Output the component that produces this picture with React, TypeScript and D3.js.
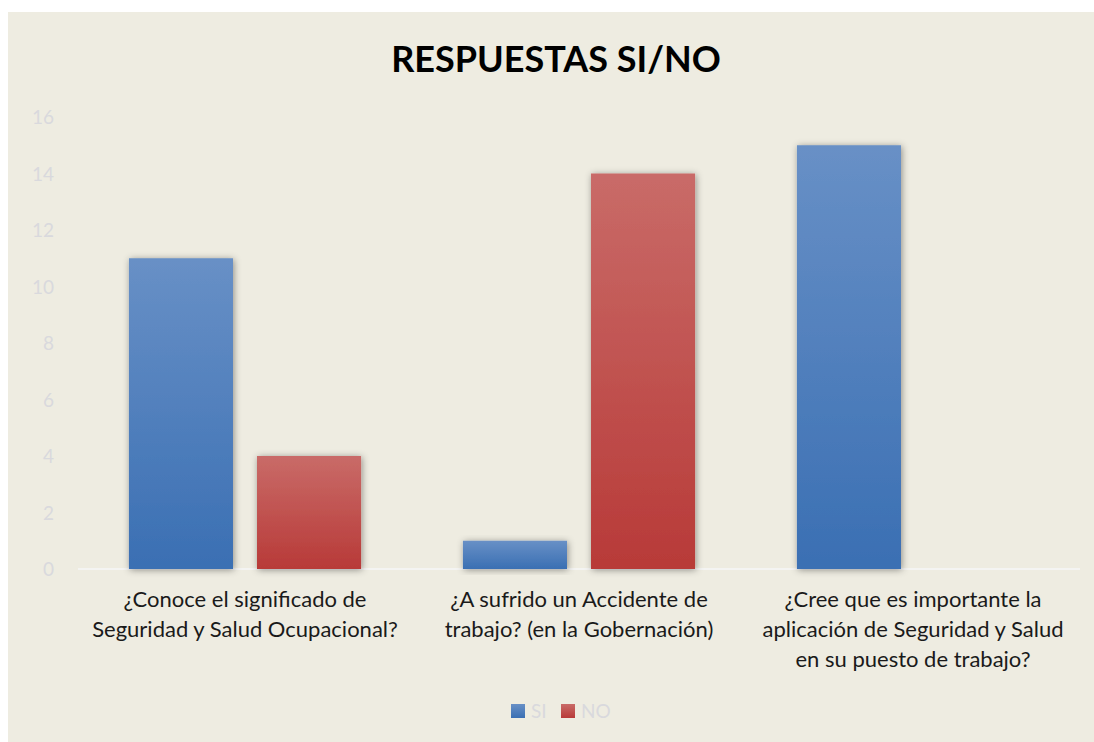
import * as d3 from "d3";
import { useEffect, useRef } from "react";

const categories = [
  "¿Conoce el significado de\nSeguridad y Salud Ocupacional?",
  "¿A sufrido un Accidente de\ntrabajo? (en la Gobernación)",
  "¿Cree que es importante la\naplicación de Seguridad y Salud\nen su puesto de trabajo?",
];
const seriesNames = ["SI", "NO"];
const siValues = [11, 1, 15];
const noValues = [4, 14, 0];
const yTicks = [0, 2, 4, 6, 8, 10, 12, 14, 16];

const colors: Record<string, [string, string]> = {
  SI: ["#6890c6", "#3a6fb3"],
  NO: ["#c96b68", "#b83a38"],
};

export default function App() {
  const svgRef = useRef<SVGSVGElement>(null);

  useEffect(() => {
    document.body.style.margin = "0";
    if (!svgRef.current) return;
    const svg = d3.select(svgRef.current);
    svg.selectAll("*").remove();

    const W = 1094;
    const H = 742;
    const plot = { left: 78, right: 1080, top: 117, bottom: 569 };
    const font = "Lato, 'Open Sans', sans-serif";

    const defs = svg.append("defs");
    seriesNames.forEach((s) => {
      const grad = defs
        .append("linearGradient")
        .attr("id", `grad-${s}`)
        .attr("x1", 0)
        .attr("y1", 0)
        .attr("x2", 0)
        .attr("y2", 1);
      grad.append("stop").attr("offset", "0%").attr("stop-color", colors[s][0]);
      grad.append("stop").attr("offset", "100%").attr("stop-color", colors[s][1]);
    });
    defs
      .append("filter")
      .attr("id", "shadow")
      .attr("x", "-20%")
      .attr("y", "-20%")
      .attr("width", "140%")
      .attr("height", "140%")
      .append("feDropShadow")
      .attr("dx", 1)
      .attr("dy", 1)
      .attr("stdDeviation", 3.5)
      .attr("flood-color", "#000")
      .attr("flood-opacity", 0.4);

    // background
    svg
      .append("rect")
      .attr("x", 8)
      .attr("y", 12)
      .attr("width", W - 8)
      .attr("height", H - 12)
      .attr("fill", "#eeece1");

    // title
    svg
      .append("text")
      .attr("x", 556)
      .attr("y", 72)
      .attr("text-anchor", "middle")
      .attr("font-family", font)
      .attr("font-weight", "bold")
      .attr("font-size", 36)
      .attr("fill", "#000")
      .text("RESPUESTAS SI/NO");

    const x0 = d3
      .scaleBand()
      .domain(categories)
      .range([plot.left, plot.right])
      .paddingInner(0.305)
      .paddingOuter(0.1525);

    const x1 = d3
      .scaleBand()
      .domain(seriesNames)
      .range([0, x0.bandwidth()])
      .paddingInner(0.1875)
      .paddingOuter(0);

    const y = d3.scaleLinear().domain([0, 16]).range([plot.bottom, plot.top]);

    // y tick labels
    svg
      .append("g")
      .selectAll("text")
      .data(yTicks)
      .enter()
      .append("text")
      .attr("x", 54)
      .attr("y", (d) => y(d) + 7)
      .attr("text-anchor", "end")
      .attr("font-family", font)
      .attr("font-size", 19)
      .attr("fill", "#d9d9dd")
      .text((d) => d);

    // baseline
    svg
      .append("line")
      .attr("x1", plot.left)
      .attr("x2", plot.right)
      .attr("y1", y(0))
      .attr("y2", y(0))
      .attr("stroke", "#f4f4f2")
      .attr("stroke-width", 2);

    const rows = categories.map((c, i) => ({ cat: c, SI: siValues[i], NO: noValues[i] }));

    const groups = svg
      .append("g")
      .selectAll("g")
      .data(rows)
      .enter()
      .append("g")
      .attr("transform", (d) => `translate(${x0(d.cat)},0)`);

    groups
      .selectAll("rect")
      .data((d) => seriesNames.map((s) => ({ s, v: (d as any)[s] as number })).filter((b) => b.v > 0))
      .enter()
      .append("rect")
      .attr("x", (d) => x1(d.s) || 0)
      .attr("width", x1.bandwidth())
      .attr("y", (d) => y(d.v))
      .attr("height", (d) => y(0) - y(d.v))
      .attr("fill", (d) => `url(#grad-${d.s})`)
      .attr("filter", "url(#shadow)");

    // category labels
    groups.each(function (d) {
      const lines = d.cat.split("\n");
      const t = d3
        .select(this)
        .append("text")
        .attr("text-anchor", "middle")
        .attr("font-family", font)
        .attr("font-size", 22)
        .attr("fill", "#1a1a1a");
      lines.forEach((ln, i) => {
        t.append("tspan")
          .attr("x", x0.bandwidth() / 2)
          .attr("y", 607 + i * 30)
          .text(ln);
      });
    });

    // legend
    const legend = svg.append("g");
    const legendX = [511, 561];
    seriesNames.forEach((s, i) => {
      legend
        .append("rect")
        .attr("x", legendX[i])
        .attr("y", 704)
        .attr("width", 14)
        .attr("height", 14)
        .attr("fill", `url(#grad-${s})`);
      legend
        .append("text")
        .attr("x", legendX[i] + 20)
        .attr("y", 718)
        .attr("font-family", font)
        .attr("font-size", 19)
        .attr("fill", "#d9d9dd")
        .text(s);
    });
  }, []);

  return <svg ref={svgRef} width={1094} height={742} style={{ display: "block" }} />;
}
